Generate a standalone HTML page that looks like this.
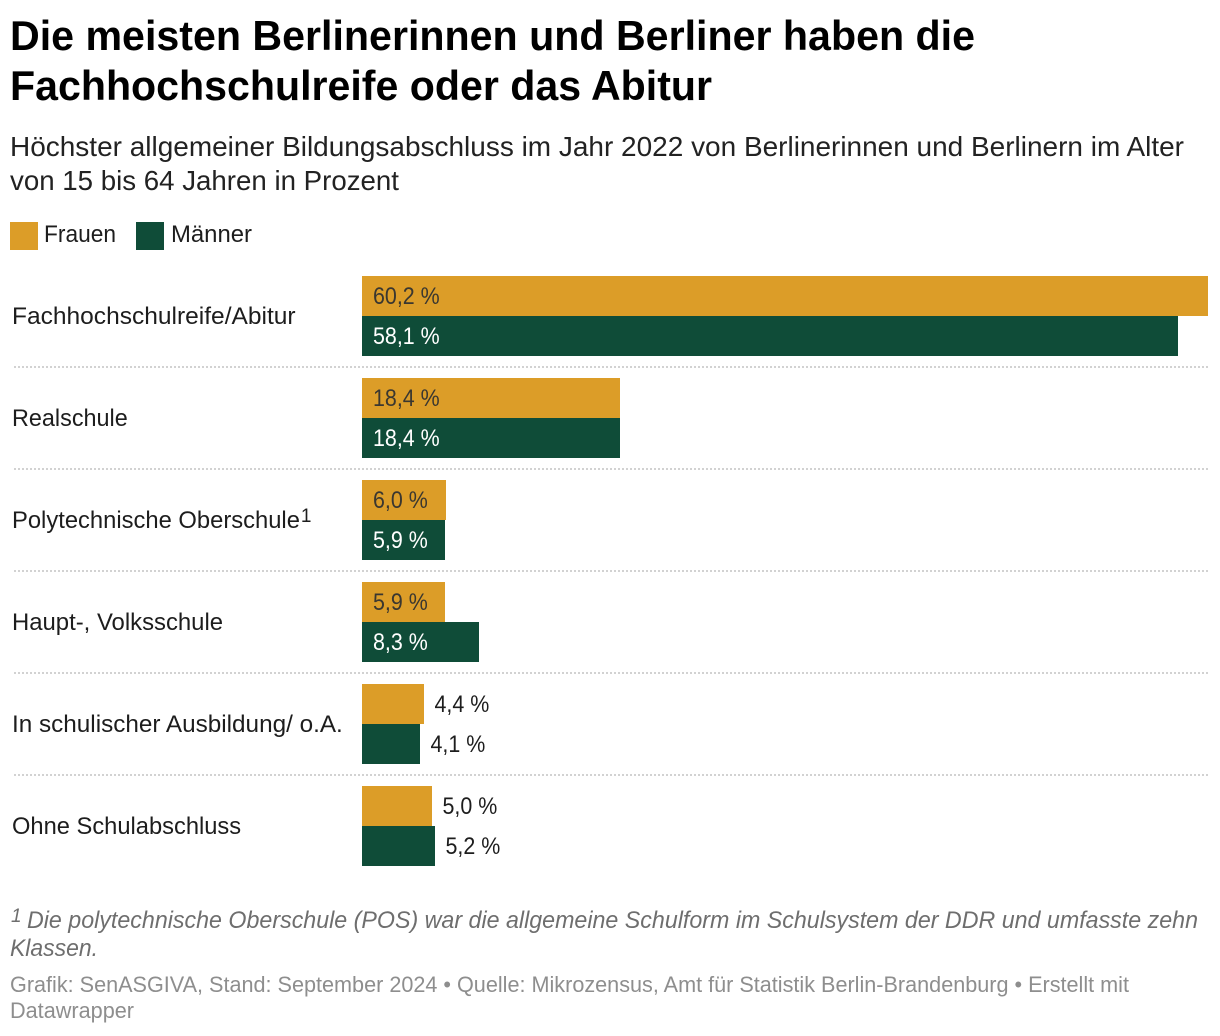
<!DOCTYPE html>
<html lang="de">
<head>
<meta charset="utf-8">
<title>Bildungsabschluss Berlin</title>
<style>
html,body{margin:0;padding:0;background:#fff;}
svg{display:block;font-family:"Liberation Sans",sans-serif;}
.title{font-size:42px;font-weight:700;fill:#000;}
.sub{font-size:27.5px;fill:#222;}
.leg{font-size:24px;fill:#1d1d1d;}
.cat{font-size:24px;fill:#1d1d1d;}
.val{font-size:24px;}
.note{font-size:24px;font-style:italic;fill:#6e6e6e;}
.by{font-size:22px;fill:#8e8e8e;}
</style>
</head>
<body>
<svg id="chart" xmlns="http://www.w3.org/2000/svg" width="1220" height="1036" viewBox="0 0 1220 1036">
  <text class="title" x="10" y="50" textLength="965" lengthAdjust="spacingAndGlyphs">Die meisten Berlinerinnen und Berliner haben die</text>
  <text class="title" x="10" y="100" textLength="702" lengthAdjust="spacingAndGlyphs">Fachhochschulreife oder das Abitur</text>
  <text class="sub" x="10" y="156" textLength="1174" lengthAdjust="spacingAndGlyphs">Höchster allgemeiner Bildungsabschluss im Jahr 2022 von Berlinerinnen und Berlinern im Alter</text>
  <text class="sub" x="10" y="190" textLength="389" lengthAdjust="spacingAndGlyphs">von 15 bis 64 Jahren in Prozent</text>

  <rect x="10" y="222" width="28" height="28" fill="#DC9D28"/>
  <text class="leg" x="44" y="242" textLength="72" lengthAdjust="spacingAndGlyphs">Frauen</text>
  <rect x="136" y="222" width="28" height="28" fill="#0F4C38"/>
  <text class="leg" x="171" y="242" textLength="81" lengthAdjust="spacingAndGlyphs">Männer</text>

  <g id="plot"></g>

  <text class="note" style="font-size:19px" x="11" y="922">1</text>
  <text class="note" x="27" y="928" textLength="1171" lengthAdjust="spacingAndGlyphs">Die polytechnische Oberschule (POS) war die allgemeine Schulform im Schulsystem der DDR und umfasste zehn</text>
  <text class="note" x="10" y="956" textLength="88" lengthAdjust="spacingAndGlyphs">Klassen.</text>
  <text class="by" x="10" y="992" textLength="1119" lengthAdjust="spacingAndGlyphs">Grafik: SenASGIVA, Stand: September 2024 • Quelle: Mikrozensus, Amt für Statistik Berlin-Brandenburg • Erstellt mit</text>
  <text class="by" x="10" y="1018" textLength="124" lengthAdjust="spacingAndGlyphs">Datawrapper</text>
</svg>
<script>
var categories = ["Fachhochschulreife/Abitur", "Realschule", "Polytechnische Oberschule", "Haupt-, Volksschule", "In schulischer Ausbildung/ o.A.", "Ohne Schulabschluss"];
var frauen = [60.2, 18.4, 6.0, 5.9, 4.4, 5.0];
var maenner = [58.1, 18.4, 5.9, 8.3, 4.1, 5.2];
var footnoted = ["Polytechnische Oberschule"];

var NS = "http://www.w3.org/2000/svg";
var plot = document.getElementById("plot");
var X0 = 362, PX_PER_UNIT = 845.6 / 60.2;
var ROW0 = 276, ROW_STEP = 102, BAR_H = 40;
var ORANGE = "#DC9D28", GREEN = "#0F4C38";
var VALUE_TEXT_FIT = 0.893;
var labelStretch = [1.022, 0.975, 0.99, 0.995, 1.012, 0.987];

function xScale(v) { return Math.round(v * PX_PER_UNIT); }
function rowTop(i) { return ROW0 + i * ROW_STEP; }
function fmt(v) { return v.toFixed(1).replace(".", ",") + " %"; }

function drawBar(i, seriesIndex, v) {
  var w = xScale(v);
  var y = rowTop(i) + seriesIndex * BAR_H;

  var bar = document.createElementNS(NS, "rect");
  bar.setAttribute("x", X0);
  bar.setAttribute("y", y);
  bar.setAttribute("width", w);
  bar.setAttribute("height", BAR_H);
  bar.setAttribute("fill", seriesIndex === 0 ? ORANGE : GREEN);
  
  
  plot.appendChild(bar);

  var inside = w > 76;
  var t = document.createElementNS(NS, "text");
  t.setAttribute("class", "val");
  t.setAttribute("x", inside ? X0 + 11 : X0 + w + 10.5);
  t.setAttribute("y", y + 28);
  t.setAttribute("fill", inside ? (seriesIndex === 0 ? "#3a3730" : "#ffffff") : "#1d1d1d");
  
  
  t.textContent = fmt(v);
  plot.appendChild(t);
  t.setAttribute("textLength", t.getComputedTextLength() * VALUE_TEXT_FIT);
  t.setAttribute("lengthAdjust", "spacingAndGlyphs");
}

categories.forEach(function (cat, i) {
  var label = document.createElementNS(NS, "text");
  label.setAttribute("class", "cat");
  label.setAttribute("x", 12);
  label.setAttribute("y", rowTop(i) + 48);
  
  
  label.textContent = cat;
  plot.appendChild(label);
  var labelWidth = label.getComputedTextLength() * labelStretch[i];
  label.setAttribute("textLength", labelWidth);
  label.setAttribute("lengthAdjust", "spacingAndGlyphs");

  if (footnoted.indexOf(cat) >= 0) {
    var sup = document.createElementNS(NS, "text");
    sup.setAttribute("class", "cat");
    sup.setAttribute("style", "font-size:19px");
    sup.setAttribute("x", 12 + labelWidth + 1);
    sup.setAttribute("y", rowTop(i) + 42);
    
    
    sup.textContent = "1";
    plot.appendChild(sup);
  }

  drawBar(i, 0, frauen[i]);
  drawBar(i, 1, maenner[i]);

  if (i < categories.length - 1) {
    var line = document.createElementNS(NS, "line");
    line.setAttribute("x1", 12);
    line.setAttribute("x2", 1208);
    line.setAttribute("y1", rowTop(i) + 91);
    line.setAttribute("y2", rowTop(i) + 91);
    line.setAttribute("stroke", "#d2d2d2");
    line.setAttribute("stroke-width", 2);
    line.setAttribute("stroke-dasharray", "2 2");
    line.setAttribute("stroke-dashoffset", 2);
    
    
    plot.appendChild(line);
  }
});
</script>
</body>
</html>
